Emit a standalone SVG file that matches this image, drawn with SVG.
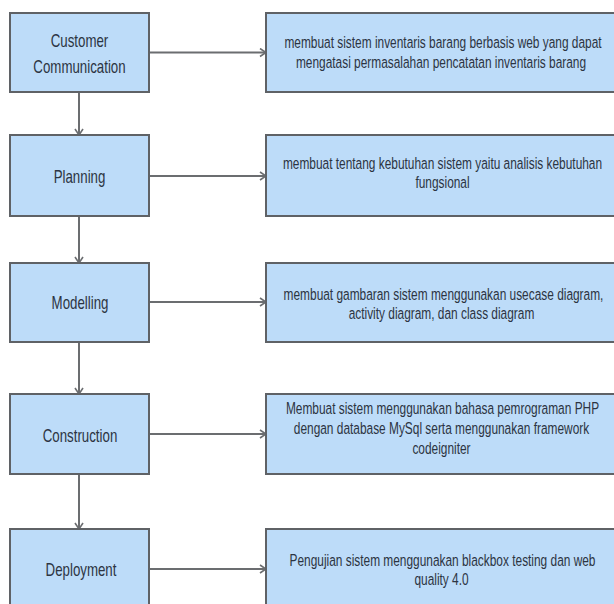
<svg xmlns="http://www.w3.org/2000/svg" width="614" height="604" viewBox="0 0 614 604">
<style>
.box{fill:#bddcf9;stroke:#5f6266;stroke-width:2}
.lt{font-family:"Liberation Sans",Arial,sans-serif;font-size:19px;fill:#2c3442;text-anchor:middle}
.rt{font-family:"Liberation Sans",Arial,sans-serif;font-size:17px;fill:#2c3442;text-anchor:middle}
.con{stroke:#6b6d70;stroke-width:2;fill:none}
</style>
<defs>
<marker id="ah" viewBox="0 0 10 10" refX="9" refY="5" markerWidth="10" markerHeight="10" markerUnits="userSpaceOnUse" orient="auto">
<path d="M3,1 L9,5 L3,9" fill="none" stroke="#6b6d70" stroke-width="1.6"/>
</marker>
</defs>
<rect width="614" height="604" fill="#ffffff"/>
<g id="connectors">
<line class="con" x1="149" y1="52.5" x2="266" y2="52.5" marker-end="url(#ah)"/>
<line class="con" x1="149" y1="176" x2="266" y2="176" marker-end="url(#ah)"/>
<line class="con" x1="149" y1="302" x2="266" y2="302" marker-end="url(#ah)"/>
<line class="con" x1="149" y1="434" x2="266" y2="434" marker-end="url(#ah)"/>
<line class="con" x1="149" y1="569" x2="266" y2="569" marker-end="url(#ah)"/>
<line class="con" x1="79" y1="92" x2="79" y2="135" marker-end="url(#ah)"/>
<line class="con" x1="79" y1="216" x2="79" y2="263" marker-end="url(#ah)"/>
<line class="con" x1="79" y1="342" x2="79" y2="394" marker-end="url(#ah)"/>
<line class="con" x1="79" y1="474" x2="79" y2="529" marker-end="url(#ah)"/>
</g>
<g id="customer-communication">
<rect class="box" x="10" y="13" width="139" height="79"/>
<text class="lt" transform="matrix(0.7 0 0 1 79.5 0)" y="47">Customer</text>
<text class="lt" transform="matrix(0.7 0 0 1 79.5 0)" y="73">Communication</text>
</g>
<g id="planning">
<rect class="box" x="10" y="135" width="139" height="81"/>
<text class="lt" transform="matrix(0.7 0 0 1 79.5 0)" y="183">Planning</text>
</g>
<g id="modelling">
<rect class="box" x="10" y="263" width="139" height="79"/>
<text class="lt" transform="matrix(0.7 0 0 1 80 0)" y="309">Modelling</text>
</g>
<g id="construction">
<rect class="box" x="10" y="394" width="139" height="80"/>
<text class="lt" transform="matrix(0.7 0 0 1 80 0)" y="442">Construction</text>
</g>
<g id="deployment">
<rect class="box" x="10" y="529" width="139" height="80"/>
<text class="lt" transform="matrix(0.7 0 0 1 81 0)" y="576">Deployment</text>
</g>
<g id="desc-communication">
<rect class="box" x="266" y="13" width="356" height="79"/>
<text class="rt" transform="matrix(0.7 0 0 1 443 0)" y="48">membuat sistem inventaris barang berbasis web yang dapat</text>
<text class="rt" transform="matrix(0.7 0 0 1 441 0)" y="68">mengatasi permasalahan pencatatan inventaris barang</text>
</g>
<g id="desc-planning">
<rect class="box" x="266" y="135" width="356" height="81"/>
<text class="rt" transform="matrix(0.7 0 0 1 442.5 0)" y="169">membuat tentang kebutuhan sistem yaitu analisis kebutuhan</text>
<text class="rt" transform="matrix(0.7 0 0 1 442.5 0)" y="188">fungsional</text>
</g>
<g id="desc-modelling">
<rect class="box" x="266" y="263" width="356" height="79"/>
<text class="rt" transform="matrix(0.7 0 0 1 443.5 0)" y="300">membuat gambaran sistem menggunakan usecase diagram,</text>
<text class="rt" transform="matrix(0.7 0 0 1 441.5 0)" y="319">activity diagram, dan class diagram</text>
</g>
<g id="desc-construction">
<rect class="box" x="266" y="394" width="356" height="80"/>
<text class="rt" transform="matrix(0.7 0 0 1 442.5 0)" y="414">Membuat sistem menggunakan bahasa pemrograman PHP</text>
<text class="rt" transform="matrix(0.7 0 0 1 441.5 0)" y="434">dengan database MySql serta menggunakan framework</text>
<text class="rt" transform="matrix(0.7 0 0 1 441.5 0)" y="454">codeigniter</text>
</g>
<g id="desc-deployment">
<rect class="box" x="266" y="529" width="356" height="80"/>
<text class="rt" transform="matrix(0.7 0 0 1 442.5 0)" y="566">Pengujian sistem menggunakan blackbox testing dan web</text>
<text class="rt" transform="matrix(0.7 0 0 1 441.5 0)" y="585">quality 4.0</text>
</g>
</svg>
